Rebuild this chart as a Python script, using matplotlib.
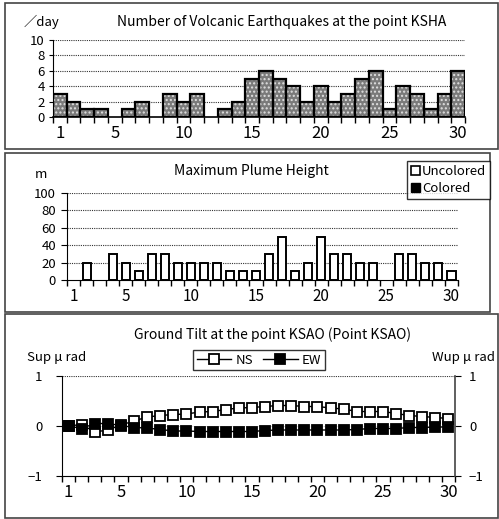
import matplotlib
matplotlib.use("Agg")
import matplotlib.pyplot as plt
from matplotlib.patches import Rectangle
from matplotlib.lines import Line2D
import numpy as np

plt.rcParams["font.family"] = ["Noto Sans CJK JP", "DejaVu Sans"]

days = list(range(1, 31))
xlabels = [1, 5, 10, 15, 20, 25, 30]

quakes = [3, 2, 1, 1, 0, 1, 2, 0, 3, 2, 3, 0, 1, 2, 5, 6, 5, 4, 2, 4,
          2, 3, 5, 6, 1, 4, 3, 1, 3, 6]

plume_uncolored = [0, 20, 0, 30, 20, 10, 30, 30, 20, 20, 20, 20, 10, 10, 10, 30, 50, 10, 20, 50,
                   30, 30, 20, 20, 0, 30, 30, 20, 20, 10]
plume_colored = [0] * 30

tilt_ns = [0.0, 0.03, -0.12, -0.08, 0.02, 0.10, 0.18, 0.21, 0.23, 0.24, 0.28, 0.29, 0.33, 0.36, 0.37,
           0.39, 0.41, 0.41, 0.39, 0.39, 0.36, 0.34, 0.29, 0.29, 0.29, 0.25, 0.21, 0.19, 0.17, 0.15]
tilt_ew = [0.0, -0.05, 0.05, 0.05, 0.01, -0.03, -0.04, -0.07, -0.10, -0.10, -0.11, -0.11, -0.11, -0.11, -0.11,
           -0.09, -0.08, -0.08, -0.08, -0.08, -0.08, -0.08, -0.07, -0.05, -0.05, -0.05, -0.03, -0.03, -0.02, -0.02]

W, H = 499, 519
fig = plt.figure(figsize=(W / 100, H / 100), dpi=100)


def fx(px):
    return px / W


def fy(py):
    return 1 - py / H


def add_ax(left, top, right, bottom):
    return fig.add_axes([fx(left), fy(bottom), fx(right - left), (bottom - top) / H])


def panel(left, top, right, bottom):
    fig.patches.append(Rectangle((fx(left), fy(bottom)), fx(right - left), (bottom - top) / H,
                                 transform=fig.transFigure, fill=False, edgecolor="#444444", lw=1.2))


def style_x(ax, size):
    ax.set_xlim(0.5, 30.5)
    ax.set_xticks(xlabels)
    ax.set_xticklabels([str(v) for v in xlabels], fontsize=size)
    ax.set_xticks(np.arange(0.5, 31, 1), minor=True)
    ax.tick_params(axis="x", which="major", length=0, pad=6)
    ax.tick_params(axis="x", which="minor", length=4, width=1, direction="out")


def grid_y(ax, vals):
    for v in vals:
        ax.axhline(v, color="#333333", lw=0.8, ls=(0, (1, 1)), zorder=0)


def edges(vals):
    # Excel draws nothing for a zero bar
    return ["black" if v > 0 else "none" for v in vals]


# panel frames
panel(5, 3, 498, 149)
panel(5, 153, 490, 312)
panel(5, 314, 498, 518)

# --- volcanic earthquakes
ax1 = add_ax(53, 40, 465, 117)
ax1.bar(days, quakes, width=1.0, facecolor="#7a7a7a", edgecolor="#e0e0e0", hatch="....", lw=0, zorder=2)
ax1.bar(days, quakes, width=1.0, fill=False, edgecolor=edges(quakes), lw=1.6, zorder=3)
ax1.set_ylim(0, 10)
ax1.set_yticks(range(0, 11, 2))
ax1.tick_params(axis="y", labelsize=9.5, length=3, pad=3)
grid_y(ax1, range(2, 11, 2))
style_x(ax1, 12)
for s in ["top", "right"]:
    ax1.spines[s].set_visible(False)
ax1.spines["bottom"].set_linewidth(1.2)
ax1.set_zorder(2)
fig.text(fx(282), fy(22), "Number of Volcanic Earthquakes at the point KSHA", fontsize=10,
         ha="center", va="center")
fig.text(fx(24), fy(22), "／day", fontsize=9.5, va="center", ha="left")

# --- plume height
ax2 = add_ax(67, 193, 458, 280)
ax2.bar(days, plume_uncolored, width=0.62, facecolor="white", edgecolor=edges(plume_uncolored),
        lw=1.4, zorder=2)
ax2.bar(days, plume_colored, width=0.62, facecolor="black", lw=0, zorder=2)
ax2.set_ylim(0, 100)
ax2.set_yticks(range(0, 101, 20))
ax2.tick_params(axis="y", labelsize=9.5, length=4, pad=4)
grid_y(ax2, range(20, 101, 20))
style_x(ax2, 11)
for s in ["top", "right"]:
    ax2.spines[s].set_visible(False)
fig.text(fx(251), fy(171), "Maximum Plume Height", fontsize=10, ha="center", va="center")
fig.text(fx(41), fy(175), "m", fontsize=9.5, ha="center", va="center")
leg2 = fig.legend(handles=[Rectangle((0, 0), 1, 1, facecolor="white", edgecolor="black", lw=1.2),
                           Rectangle((0, 0), 1, 1, facecolor="black", edgecolor="black")],
                  labels=["Uncolored", "Colored"], loc="upper right",
                  bbox_to_anchor=(fx(490), fy(161)), fontsize=9.5, frameon=True, fancybox=False,
                  edgecolor="black", handlelength=0.7, handleheight=0.7, handletextpad=0.1,
                  labelspacing=0.3, borderpad=0.3, borderaxespad=0)
leg2.get_frame().set_linewidth(1.0)

# --- ground tilt
ax3 = add_ax(62, 376, 455, 476)
ax3.plot(days, tilt_ns, color="black", lw=1.0, marker="s", ms=7.5, mfc="white", mec="black",
         mew=1.3, zorder=3)
ax3.plot(days, tilt_ew, color="black", lw=1.0, marker="s", ms=7.5, mfc="black", mec="black",
         mew=1.3, zorder=4)
ax3.set_ylim(-1, 1)
ax3.set_yticks([-1, 0, 1])
ax3.set_yticklabels(["−1", "0", "1"])
ax3.tick_params(axis="y", labelsize=9.5, length=4, pad=10)
grid_y(ax3, [1])
ax3.axhline(0, color="#bbbbbb", lw=0.6, ls=(0, (1, 1)), zorder=0)
style_x(ax3, 12)
ax3.spines["top"].set_visible(False)
ax3.spines["right"].set_visible(False)
ax3r = ax3.twinx()
ax3r.set_ylim(-1, 1)
ax3r.set_yticks([-1, 0, 1])
ax3r.set_yticklabels(["−1", "0", "1"])
ax3r.tick_params(axis="y", labelsize=9.5, length=4, pad=6)
ax3r.spines["top"].set_visible(False)
ax3r.spines["left"].set_visible(False)
ax3r.spines["bottom"].set_visible(False)
ax3r.spines["right"].set_color("#444444")
ax3r.spines["right"].set_linewidth(1.2)

fig.text(fx(272), fy(335), "Ground Tilt at the point KSAO (Point KSAO)", fontsize=10,
         ha="center", va="center")
fig.text(fx(27), fy(357), "Sup μ rad", fontsize=9.5, ha="left", va="center")
fig.text(fx(495), fy(357), "Wup μ rad", fontsize=9.5, ha="right", va="center")
h_ns = Line2D([], [], color="black", lw=1.0, marker="s", ms=7.5, mfc="white", mec="black", mew=1.3)
h_ew = Line2D([], [], color="black", lw=1.0, marker="s", ms=7.5, mfc="black", mec="black", mew=1.3)
leg3 = fig.legend(handles=[h_ns, h_ew], labels=["NS", "EW"], loc="center",
                  bbox_to_anchor=(fx(259), fy(360)), ncol=2, fontsize=9.5, frameon=True,
                  fancybox=False, edgecolor="black", handlelength=2.6, handletextpad=0.3,
                  columnspacing=0.8, borderpad=0.3)
leg3.get_frame().set_linewidth(1.0)

fig.savefig("out.png", dpi=100)
